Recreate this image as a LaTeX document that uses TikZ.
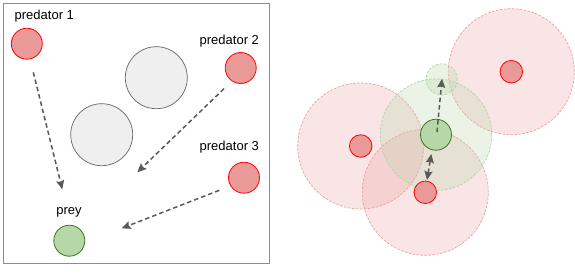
\documentclass[tikz,border=0pt]{standalone}
\usepackage{fontspec}
\setmainfont{Liberation Sans}
\usetikzlibrary{arrows.meta}
\definecolor{redfill}{HTML}{EA9999}
\definecolor{redline}{HTML}{FF0000}
\definecolor{greenfill}{HTML}{B6D7A8}
\definecolor{greenline}{HTML}{38761D}
\definecolor{grayfill}{HTML}{EFEFEF}
\definecolor{grayline}{HTML}{666666}
\definecolor{arrowgray}{HTML}{595959}
\definecolor{framegray}{HTML}{8C8C8C}
\tikzset{
  x=1pt, y=-1pt,
  agent/.style={circle, inner sep=0pt, minimum size=31pt, line width=0.8pt},
  pred/.style={agent, fill=redfill, draw=redline},
  preyc/.style={agent, fill=greenfill, draw=greenline},
  obst/.style={circle, inner sep=0pt, minimum size=62pt, fill=grayfill, draw=grayline, line width=0.7pt},
  lbl/.style={inner sep=0pt, font=\fontsize{13}{15}\selectfont},
  tip/.style={Stealth[length=9pt,width=8pt,inset=1.5pt]},
  move/.style={draw=arrowgray, line width=1.5pt, dash pattern=on 4.5pt off 3pt, -{Stealth[length=9pt,width=8pt,inset=1.5pt]}},
  movetwo/.style={draw=arrowgray, line width=1.5pt, dash pattern=on 4.5pt off 3pt,
     {Stealth[length=9pt,width=8pt,inset=1.5pt]}-{Stealth[length=9pt,width=8pt,inset=1.5pt]}},
  zone/.style={circle, inner sep=0pt, minimum size=126pt, fill=redfill, fill opacity=0.25,
     draw=redfill, draw opacity=0.9, dash pattern=on 2.5pt off 1.5pt, line width=0.7pt},
  gzone/.style={circle, inner sep=0pt, fill=greenfill, fill opacity=0.28,
     draw=greenfill, dash pattern=on 2.5pt off 1.5pt, line width=0.8pt},
  small/.style={circle, inner sep=0pt, minimum size=22.5pt, fill=redfill, draw=redline, line width=0.8pt},
  smallg/.style={circle, inner sep=0pt, minimum size=31pt, fill=greenfill, draw=greenline, line width=0.8pt},
}
\begin{document}
\begin{tikzpicture}
\useasboundingbox (0,0) rectangle (575,273);
\fill[white] (0,0) rectangle (575,273);
% left panel
\node[draw=framegray, line width=0.7pt, minimum width=266pt, minimum height=260.5pt, inner sep=0pt] (frame) at (136,133.5) {};
\node[obst] (o1) at (156.3,77.7) {};
\node[obst] (o2) at (101.7,134.7) {};
\node[pred] (p1) at (26.8,43.7) {};
\node[pred] (p2) at (240.7,68) {};
\node[pred] (p3) at (244,177.7) {};
\node[preyc] (prey) at (69.3,240.7) {};
\node[lbl] (l1) at (44.3,16.5) {predator 1};
\node[lbl] (l2) at (229.3,41.3) {predator 2};
\node[lbl] (l3) at (229.3,147.3) {predator 3};
\node[lbl] (lp) at (69,212.3) {prey};
\coordinate (a1s) at (33.3,72.3);
\coordinate (a1e) at (62.3,189.3);
\coordinate (a2s) at (224,88.7);
\coordinate (a2e) at (137.3,172.3);
\coordinate (a3s) at (219.3,190.3);
\coordinate (a3e) at (121.7,228.3);
\draw[move] (a1s) -- (a1e);
\draw[move] (a2s) -- (a2e);
\draw[move] (a3s) -- (a3e);
% right panel
\node[zone] (za) at (360.7,146) {};
\node[zone] (zb) at (511.3,71.7) {};
\node[zone] (zc) at (425.3,192.3) {};
\node[gzone, minimum size=111.6pt] (zg) at (436,134.7) {};
\node[gzone, minimum size=31pt] (zg2) at (441.7,79.3) {};
\node[small] (sa) at (360.7,146) {};
\node[small] (sb) at (511.3,71.7) {};
\node[small] (sc) at (425.3,192.3) {};
\node[smallg] (sg) at (436,134.7) {};
\coordinate (b1s) at (437,132);
\coordinate (b1e) at (442,78.7);
\coordinate (b2s) at (427,180);
\coordinate (b2e) at (431.3,154);
\draw[move] (b1s) -- (b1e);
\draw[movetwo] (b2s) -- (b2e);
\end{tikzpicture}
\end{document}
